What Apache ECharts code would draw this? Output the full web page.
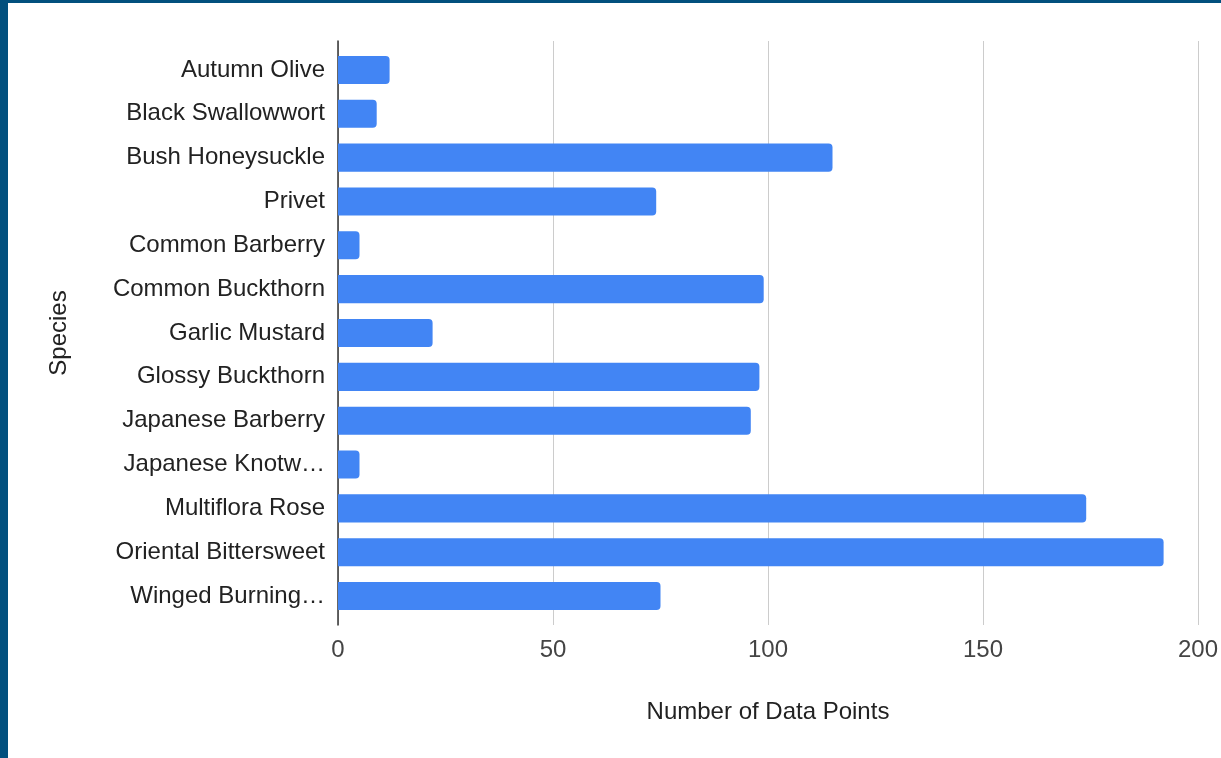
<!DOCTYPE html>
<html>
<head>
<meta charset="utf-8">
<script src="https://cdn.jsdelivr.net/npm/echarts@6/dist/echarts.min.js"></script>
<style>
  html, body { margin: 0; padding: 0; background: #02507e; }
  #myCharts {
    position: absolute;
    left: 8px;
    top: 3px;
    width: 1213px;
    height: 755px;
    background: #fff;
  }
</style>
</head>
<body>
<div id="myCharts"></div>
<script>
// species, top to bottom as in the picture
const species = [
  "Autumn Olive",
  "Black Swallowwort",
  "Bush Honeysuckle",
  "Privet",
  "Common Barberry",
  "Common Buckthorn",
  "Garlic Mustard",
  "Glossy Buckthorn",
  "Japanese Barberry",
  "Japanese Knotweed",
  "Multiflora Rose",
  "Oriental Bittersweet",
  "Winged Burning Bush",
];
const dataPoints = [12, 9, 115, 74, 5, 99, 22, 98, 96, 5, 174, 192, 75];
const xTicks = [0, 50, 100, 150, 200];
// long names are cut short on the axis
const shortNames = {
  "Japanese Knotweed": "Japanese Knotw…",
  "Winged Burning Bush": "Winged Burning…",
};

const myCharts = echarts.init(document.getElementById("myCharts"));
const font = "'Liberation Sans', Arial, sans-serif";

let option = {
  textStyle: { fontFamily: font },
  grid: [
    // grid lines + axis line (slightly taller than the bar area)
    { left: 330, top: 38, width: 860, height: 584 },
    // bars
    { left: 330, top: 45, width: 860, height: 570 },
  ],
  xAxis: [
    {
      gridIndex: 0,
      type: "value",
      min: xTicks[0],
      max: xTicks[xTicks.length - 1],
      interval: 50,
      name: "Number of Data Points",
      nameLocation: "middle",
      nameGap: 75,
      nameTextStyle: { fontSize: 24, color: "#222", fontFamily: font },
      axisLine: { show: false },
      axisTick: { show: false },
      axisLabel: { fontSize: 24, color: "#444", margin: 13, fontFamily: font },
      splitLine: { lineStyle: { color: "#cccccc", width: 1 } },
    },
    {
      gridIndex: 1,
      type: "value",
      min: xTicks[0],
      max: xTicks[xTicks.length - 1],
      show: false,
    },
  ],
  yAxis: [
    {
      gridIndex: 0,
      type: "value",
      min: 0,
      max: 1,
      name: "Species",
      nameLocation: "middle",
      nameGap: 267,
      nameTextStyle: { fontSize: 24, color: "#222", fontFamily: font },
      axisLine: { show: true, lineStyle: { color: "#333", width: 1.5 } },
      axisTick: { show: false },
      axisLabel: { show: false },
      splitLine: { show: false },
    },
    {
      gridIndex: 1,
      type: "category",
      inverse: true,
      data: species,
      axisLine: { show: false },
      axisTick: { show: false },
      axisLabel: {
        fontSize: 24,
        color: "#222",
        margin: 13,
        fontFamily: font,
        formatter: (name) => shortNames[name] || name,
      },
    },
  ],
  series: [
    {
      name: "Number of Data Points",
      type: "bar",
      xAxisIndex: 1,
      yAxisIndex: 1,
      barCategoryGap: "36%",
      itemStyle: { color: "#4285f4", borderRadius: [0, 4, 4, 0] },
      data: dataPoints,
    },
  ],
};

myCharts.setOption(option);
</script>
</body>
</html>
